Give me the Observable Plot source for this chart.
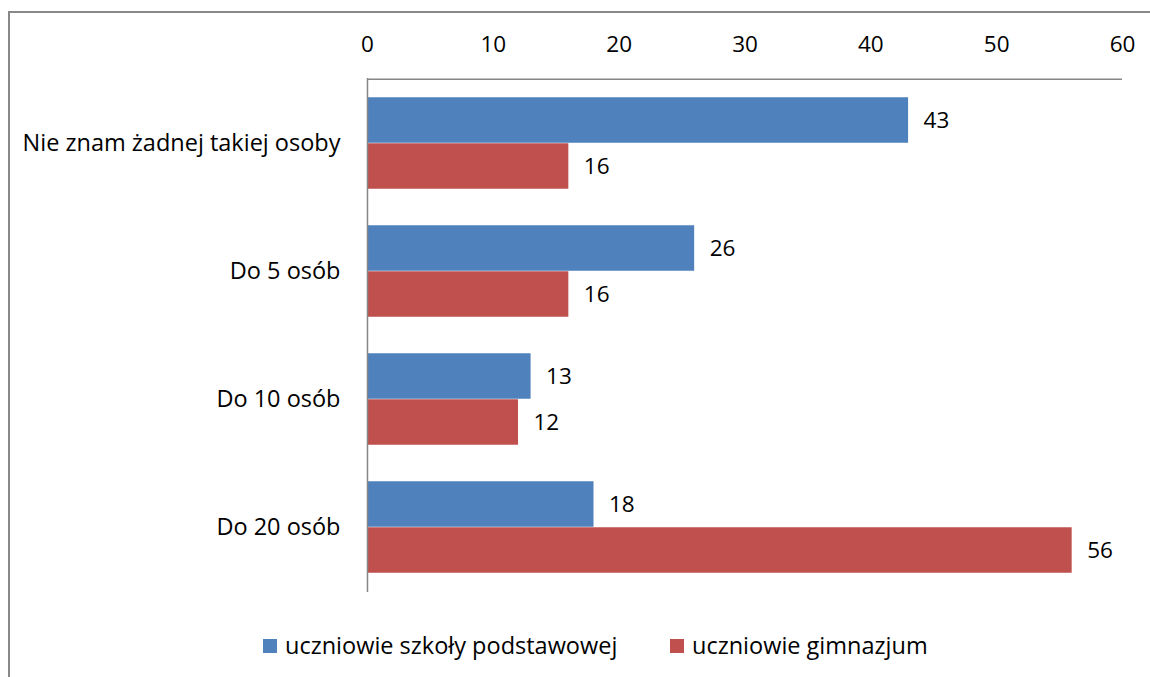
<!DOCTYPE html>
<html>
<head>
<meta charset="utf-8">
<script src="https://cdn.jsdelivr.net/npm/d3@7"></script>
<script src="https://cdn.jsdelivr.net/npm/@observablehq/plot@0.6"></script>
<style>
  html, body { margin: 0; padding: 0; background: #fff; width: 1150px; height: 677px; overflow: hidden; }
  #frame { position: absolute; left: 8px; top: 11px; width: 1200px; height: 700px;
           border-left: 2px solid #888; border-top: 2px solid #888; box-sizing: border-box; }
  #chart { position: absolute; left: 0; top: 0; }
  #legend { position: absolute; left: 0; top: 630px; width: 1150px; height: 30px;
            font-family: "Open Sans", sans-serif; font-size: 23.5px; color: #000; }
  .item { position: absolute; top: 0; display: flex; align-items: center; height: 30px; white-space: nowrap; }
  .sw { width: 14px; height: 14px; margin-right: 8px; margin-top: 2px; }
</style>
</head>
<body>
<div id="frame"></div>
<div id="chart"></div>
<div id="legend"></div>
<script>
const categories = ["Nie znam żadnej takiej osoby", "Do 5 osób", "Do 10 osób", "Do 20 osób"];
const seriesNames = ["uczniowie szkoły podstawowej", "uczniowie gimnazjum"];
const primaryValues = [43, 26, 13, 18];
const gymnasiumValues = [16, 16, 12, 56];
const xTicks = [0, 10, 20, 30, 40, 50, 60];
const colors = ["#4F81BD", "#C0504D"];

const rows = [];
categories.forEach((c, i) => {
  rows.push({category: c, series: seriesNames[0], value: primaryValues[i]});
  rows.push({category: c, series: seriesNames[1], value: gymnasiumValues[i]});
});
const upperRows = rows.filter(d => d.series === seriesNames[0]);
const lowerRows = rows.filter(d => d.series === seriesNames[1]);

const font = "Open Sans, sans-serif";
const chart = Plot.plot({
  width: 1150,
  height: 610,
  marginLeft: 367,
  marginRight: 28,
  marginTop: 78,
  marginBottom: 18,
  style: {fontFamily: font, color: "#000", background: "transparent"},
  x: {domain: [0, 60], label: null},
  y: {domain: categories, padding: 0, label: null},
  color: {domain: seriesNames, range: colors},
  marks: [
    Plot.axisX({anchor: "top", ticks: xTicks, tickSize: 0, tickPadding: 27, fontSize: 22.5, label: null, fill: "#000"}),
    Plot.axisY({anchor: "left", tickSize: 0, tickPadding: 27, fontSize: 23.5, label: null, fill: "#000"}),
    Plot.barX(upperRows, {x: "value", y: "category", fill: "series", insetTop: 18.25, insetBottom: 64.25}),
    Plot.barX(lowerRows, {x: "value", y: "category", fill: "series", insetTop: 64.25, insetBottom: 18.25}),
    Plot.text(upperRows, {x: "value", y: "category", text: d => String(d.value), dx: 15, dy: -23, textAnchor: "start", fill: "#000", fontSize: 22.5}),
    Plot.text(lowerRows, {x: "value", y: "category", text: d => String(d.value), dx: 15, dy: 23, textAnchor: "start", fill: "#000", fontSize: 22.5}),
    Plot.ruleX([0], {stroke: "#868686", strokeWidth: 1.5}),
    Plot.ruleY([categories[0]], {y: d => d, stroke: "#868686", strokeWidth: 1.5, dy: -64.25})
  ]
});
document.getElementById("chart").appendChild(chart);

const legend = document.getElementById("legend");
const lefts = [263, 670];
seriesNames.forEach((s, i) => {
  const item = document.createElement("div");
  item.className = "item";
  item.style.left = lefts[i] + "px";
  const sw = document.createElement("div");
  sw.className = "sw";
  sw.style.background = colors[i];
  const t = document.createElement("span");
  t.textContent = s;
  item.appendChild(sw);
  item.appendChild(t);
  legend.appendChild(item);
});
</script>
</body>
</html>
